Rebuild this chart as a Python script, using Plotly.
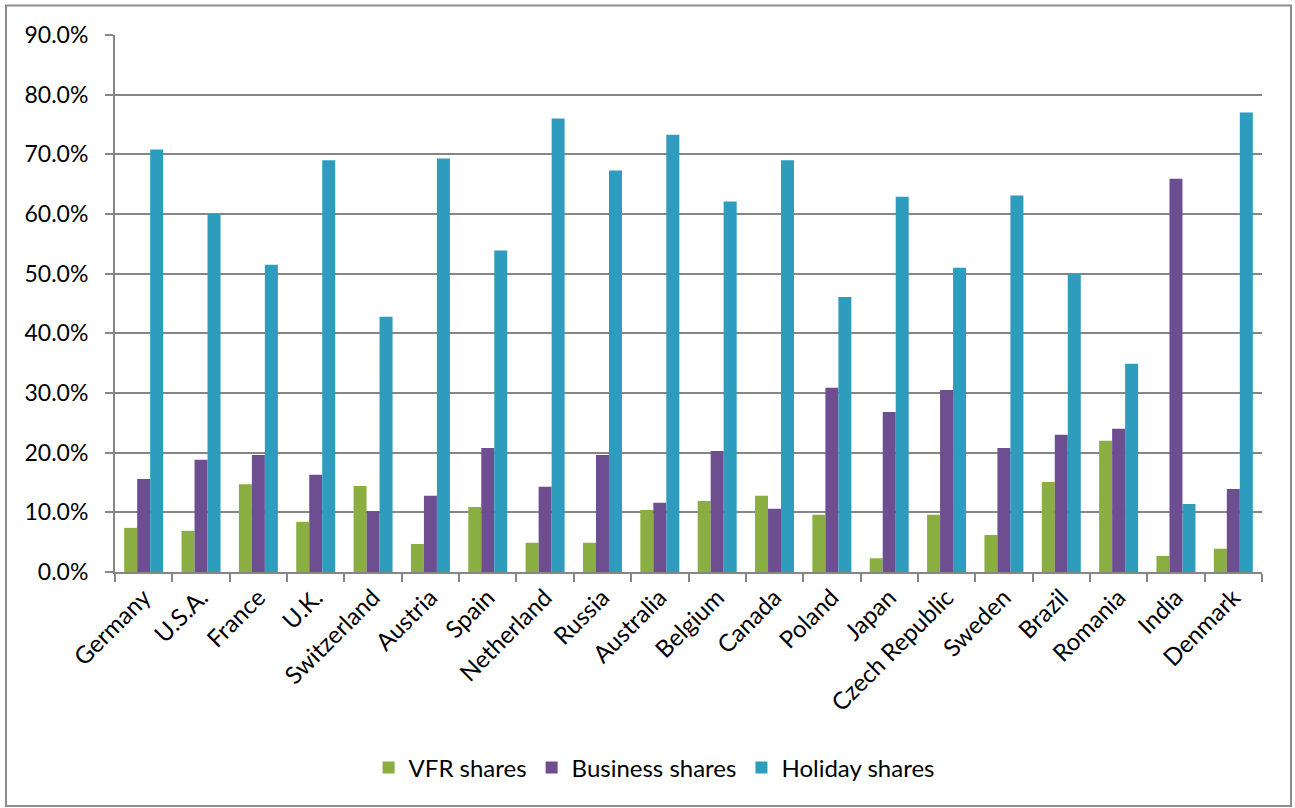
import plotly.graph_objects as go

countries = ["Germany", "U.S.A.", "France", "U.K.", "Switzerland", "Austria", "Spain",
             "Netherland", "Russia", "Australia", "Belgium", "Canada", "Poland", "Japan",
             "Czech Republic", "Sweden", "Brazil", "Romania", "India", "Denmark"]
vfr = [7.4, 6.9, 14.7, 8.4, 14.4, 4.7, 10.9, 4.9, 4.9, 10.4, 11.9, 12.8, 9.6, 2.3,
       9.6, 6.2, 15.1, 22.0, 2.7, 3.9]
business = [15.6, 18.8, 19.6, 16.3, 10.2, 12.8, 20.8, 14.3, 19.6, 11.6, 20.3, 10.6, 30.9, 26.8,
            30.5, 20.8, 23.0, 24.0, 65.9, 13.9]
holiday = [70.8, 60.0, 51.5, 69.0, 42.8, 69.3, 53.9, 76.0, 67.3, 73.3, 62.1, 69.0, 46.1, 62.9,
           51.0, 63.1, 50.0, 34.9, 11.4, 77.0]

series = [
    ("VFR shares", vfr, "#8AAE42"),
    ("Business shares", business, "#6C4E91"),
    ("Holiday shares", holiday, "#2E9CBD"),
]

fig = go.Figure()
for name, vals, color in series:
    fig.add_trace(go.Bar(
        x=countries, y=[v / 100 for v in vals], name=name,
        marker=dict(color=color, line=dict(width=0)),
    ))

font_family = "Lato, 'Open Sans', sans-serif"
fig.update_layout(
    width=1295, height=808,
    margin=dict(l=115, r=33, t=35, b=236),
    paper_bgcolor="white", plot_bgcolor="white",
    barmode="group", bargap=0.32, bargroupgap=0,
    font=dict(family=font_family, size=20, color="#000000"),
    showlegend=True,
    legend=dict(orientation="h", x=0.47, xanchor="center", y=-0.365, yanchor="middle",
                font=dict(size=24), itemwidth=30, traceorder="normal"),
    xaxis=dict(
        tickangle=-45, showgrid=False, showline=True, linecolor="#868686", linewidth=2,
        ticks="outside", tickson="boundaries", ticklen=8, tickcolor="#868686", tickwidth=2,
        tickfont=dict(size=24),
    ),
    yaxis=dict(
        range=[0, 0.9], dtick=0.1, tickformat=".1%", showgrid=True, gridcolor="#868686",
        gridwidth=2, showline=True, linecolor="#868686", linewidth=2, ticks="outside",
        ticklen=8, tickcolor="#868686", tickwidth=2, zeroline=False, tickfont=dict(size=23),
        ticklabelstandoff=12,
    ),
    shapes=[dict(type="rect", xref="paper", yref="paper",
                 x0=(6 - 115) / 1147, x1=(1291 - 115) / 1147,
                 y0=(572 - 806) / 537, y1=(572 - 5.5) / 537,
                 line=dict(color="#8C8C8C", width=2), fillcolor="rgba(0,0,0,0)", layer="below")],
)

fig.write_html("out.html")
